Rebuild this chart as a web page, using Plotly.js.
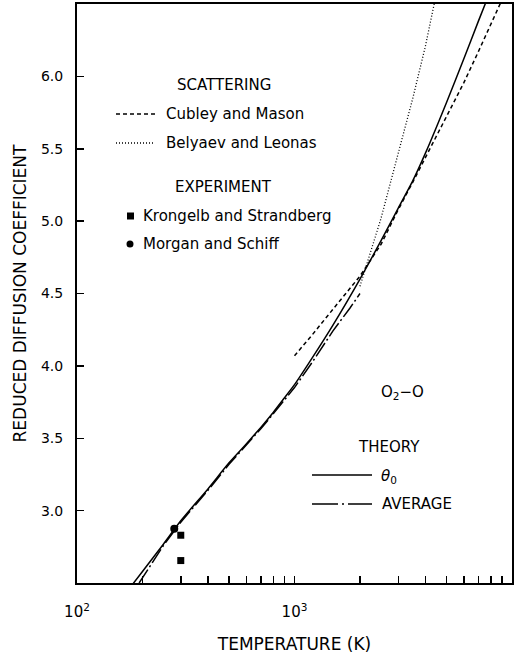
<!DOCTYPE html>
<html>
<head>
<meta charset="utf-8">
<script src="https://cdn.plot.ly/plotly-3.0.1.min.js"></script>
<style>html,body{margin:0;padding:0;background:#fff;}#chart{width:524px;height:660px;}</style>
</head>
<body>
<div id="chart"></div>
<script>
// Theory: theta_0 (solid)
const thetaT = [180,200,250,300,400,500,600,700,800,900,1000,1200,1500,2000,2500,3000,3500,4000,5000,6000,7000,8000];
const thetaD = [2.49,2.58,2.77,2.93,3.15,3.33,3.46,3.575,3.68,3.78,3.87,4.05,4.28,4.60,4.865,5.09,5.28,5.47,5.82,6.12,6.38,6.60];
// Theory: average (dash-dot)
const avgT = [193,250,300,400,500,600,700,800,900,1000,1200,1500,1800,2000];
const avgD = [2.50,2.76,2.92,3.14,3.32,3.45,3.565,3.67,3.765,3.85,4.02,4.24,4.40,4.50];
// Scattering: Cubley and Mason (dashed)
const cmT = [1000,1200,1500,2000,2500,3000,3500,4000,5000,6000,7000,8000,9000];
const cmD = [4.07,4.21,4.39,4.62,4.84,5.08,5.27,5.44,5.73,5.955,6.17,6.36,6.53];
// Scattering: Belyaev and Leonas (dotted)
const blT = [2000,2500,3000,3500,4000,4500];
const blD = [4.55,5.02,5.47,5.85,6.21,6.58];
// Experiment
const ksT = [300,300];
const ksD = [2.83,2.655];
const msT = [280];
const msD = [2.875];
// Axis ticks
const xTickVals = [100,200,300,400,500,600,700,800,900,1000,2000,3000,4000,5000,6000,7000,8000,9000,10000];
const xTickText = ['10<sup>2</sup>','','','','','','','','','10<sup>3</sup>','','','','','','','','','10<sup>4</sup>'];
const yTickVals = [3.0,3.5,4.0,4.5,5.0,5.5,6.0];
const yTickText = ['3.0','3.5','4.0','4.5','5.0','5.5','6.0'];

const FONT = 'DejaVu Sans, Arial, sans-serif';
const L = 77, R = 512, T = 4, B = 583;
const px = x => (x - L) / (R - L);
const py = y => (B - y) / (B - T);

const traces = [
  {x: thetaT, y: thetaD, mode: 'lines', line: {color: '#000', width: 1.5, shape: 'spline', smoothing: 0.6}},
  {x: avgT, y: avgD, mode: 'lines', line: {color: '#000', width: 1.5, dash: '16px,3px,2px,3px'}},
  {x: cmT, y: cmD, mode: 'lines', line: {color: '#000', width: 1.5, dash: '4px,3px'}},
  {x: blT, y: blD, mode: 'lines', line: {color: '#000', width: 1.3, dash: '1px,2px'}},
  {x: ksT, y: ksD, mode: 'markers', marker: {symbol: 'square', size: 7, color: '#000'}},
  {x: msT, y: msD, mode: 'markers', marker: {symbol: 'circle', size: 8, color: '#000'}}
];

function txt(x, y, text, anchor) {
  return {xref: 'paper', yref: 'paper', x: px(x), y: py(y), text: text, showarrow: false,
          xanchor: anchor || 'left', yanchor: 'middle', font: {family: FONT, size: 15, color: '#000'}};
}
function seg(x0, x1, y, dash) {
  return {type: 'line', xref: 'paper', yref: 'paper', x0: px(x0), x1: px(x1), y0: py(y), y1: py(y),
          line: {color: '#000', width: 1.5, dash: dash}};
}

const layout = {
  width: 524, height: 660,
  margin: {l: L, r: 524 - R, t: T, b: 660 - B},
  paper_bgcolor: '#fff', plot_bgcolor: '#fff',
  showlegend: false,
  font: {family: FONT, color: '#000'},
  xaxis: {
    type: 'log', range: [2, 4],
    tickmode: 'array', tickvals: xTickVals, ticktext: xTickText,
    ticks: 'inside', ticklen: 7, tickwidth: 1.5, tickcolor: '#000',
    showline: true, linecolor: '#000', linewidth: 2, mirror: true,
    showgrid: false, zeroline: false,
    ticklabelstandoff: 14,
    tickfont: {family: FONT, size: 15, color: '#000'},
    title: {text: 'TEMPERATURE (K)', font: {family: FONT, size: 17, color: '#000'}, standoff: 18}
  },
  yaxis: {
    range: [2.5, 6.5],
    tickmode: 'array', tickvals: yTickVals, ticktext: yTickText,
    ticks: 'inside', ticklen: 7, tickwidth: 1.5, tickcolor: '#000',
    showline: true, linecolor: '#000', linewidth: 2, mirror: true,
    showgrid: false, zeroline: false,
    ticklabelstandoff: 9,
    tickfont: {family: FONT, size: 14, color: '#000'},
    title: {text: 'REDUCED DIFFUSION COEFFICIENT', font: {family: FONT, size: 17, color: '#000'}, standoff: 10}
  },
  annotations: [
    txt(224, 85, 'SCATTERING', 'center'),
    txt(164, 114, 'Cubley and Mason'),
    txt(164, 143, 'Belyaev and Leonas'),
    txt(223, 187, 'EXPERIMENT', 'center'),
    txt(141, 216, 'Krongelb and Strandberg'),
    txt(141, 244, 'Morgan and Schiff'),
    txt(402, 392, 'O<sub>2</sub>\u2212O', 'center'),
    txt(389, 447, 'THEORY', 'center'),
    txt(379, 477, '<i>\u03b8</i><sub>0</sub>'),
    txt(380, 504, 'AVERAGE')
  ],
  shapes: [
    seg(116, 155, 114, '4px,3px'),
    seg(116, 155, 143, '1px,2px'),
    seg(312, 372, 475, 'solid'),
    seg(312, 372, 504, '26px,4px,2px,4px'),
    {type: 'rect', xref: 'paper', yref: 'paper', x0: px(127), x1: px(134), y0: py(212.5), y1: py(219.5),
     fillcolor: '#000', line: {width: 0}},
    {type: 'circle', xref: 'paper', yref: 'paper', x0: px(126.5), x1: px(133.5), y0: py(240.5), y1: py(247.5),
     fillcolor: '#000', line: {width: 0}}
  ]
};

Plotly.newPlot('chart', traces, layout, {displayModeBar: false, staticPlot: true});
</script>
</body>
</html>
